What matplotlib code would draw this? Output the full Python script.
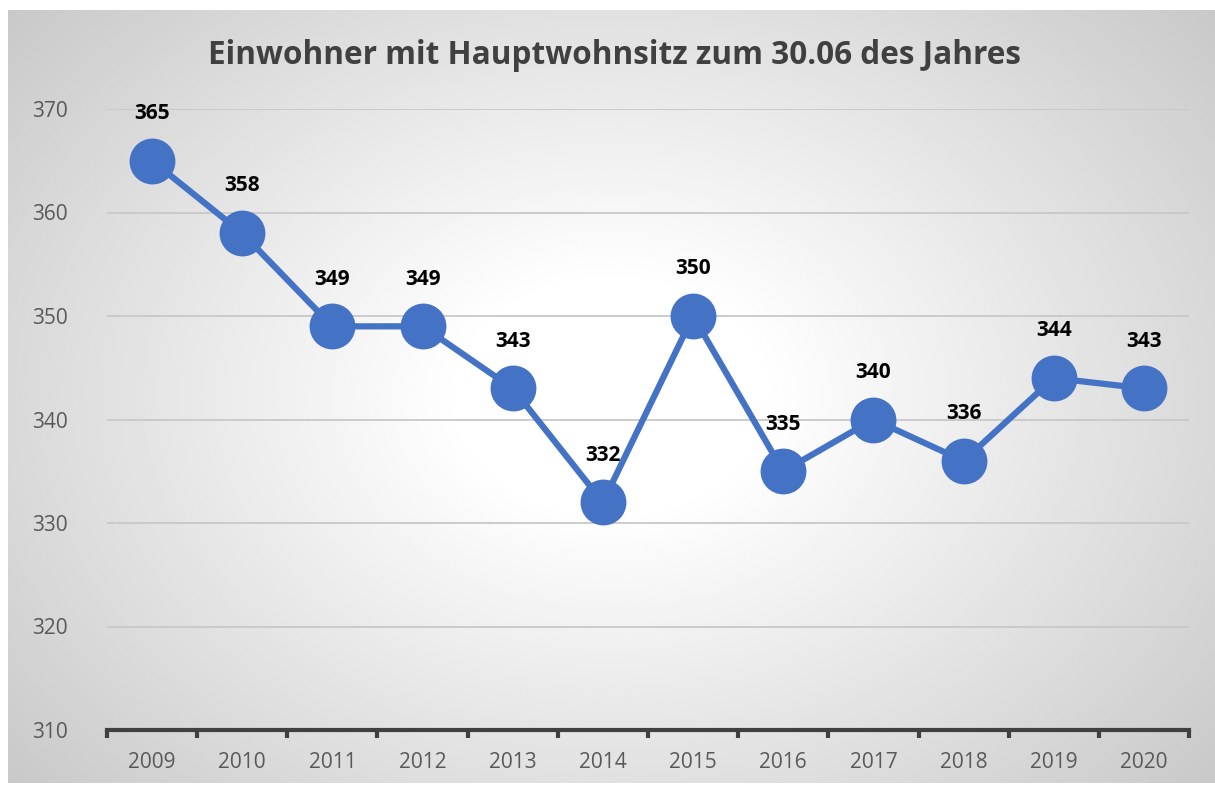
import matplotlib
matplotlib.use("Agg")
import matplotlib.pyplot as plt
import numpy as np

years = ["2009", "2010", "2011", "2012", "2013", "2014",
         "2015", "2016", "2017", "2018", "2019", "2020"]
residents = [365, 358, 349, 349, 343, 332, 350, 335, 340, 336, 344, 343]
y_ticks = [310, 320, 330, 340, 350, 360, 370]
title = "Einwohner mit Hauptwohnsitz zum 30.06 des Jahres"

LINE_COLOR = "#4472C4"
TEXT_GRAY = "#595959"

plt.rcParams["font.family"] = ["Open Sans", "DejaVu Sans"]

fig = plt.figure(figsize=(12.15, 7.85), dpi=100)

# radial gradient background of the chart area
bg = fig.add_axes([8 / 1215, 2 / 785, 1207 / 1215, 773 / 785])
bg.set_axis_off()
yy, xx = np.mgrid[-1:1:400j, -1:1:600j]
dist = np.sqrt(xx ** 2 + (yy * 0.85) ** 2)
shade = 1.0 - 0.22 * np.clip((dist - 0.25) / 1.1, 0, 1)
bg.imshow(shade, cmap="gray", vmin=0, vmax=1, aspect="auto",
          extent=(0, 1, 0, 1), interpolation="bilinear")
bg.set_xlim(0, 1)
bg.set_ylim(0, 1)

ax = fig.add_axes([107 / 1215, 1 - 730 / 785, 1082 / 1215, 621 / 785])
ax.patch.set_alpha(0)

x = np.arange(len(years))
ax.plot(x, residents, color=LINE_COLOR, lw=4.5, marker="o", ms=32,
        markerfacecolor=LINE_COLOR, markeredgecolor=LINE_COLOR, zorder=3,
        clip_on=False)
for xi, val in zip(x, residents):
    ax.annotate(str(val), (xi, val), xytext=(0, 34), textcoords="offset points",
                ha="center", va="center", fontsize=15, fontweight="bold",
                color="black", zorder=4)

ax.set_xlim(-0.5, len(years) - 0.5)
ax.set_ylim(310, 370)
ax.set_yticks(y_ticks)
ax.set_xticks(x)
ax.set_xticklabels(years)
ax.set_xticks(np.arange(-0.5, len(years)), minor=True)
ax.tick_params(axis="x", which="major", length=0, pad=16, labelsize=15,
               labelcolor=TEXT_GRAY)
ax.tick_params(axis="x", which="minor", length=6, width=3, color="#404040",
               direction="out")
ax.tick_params(axis="y", length=0, pad=54, labelsize=15, labelcolor=TEXT_GRAY)
for lbl in ax.get_yticklabels():
    lbl.set_horizontalalignment("left")

ax.grid(axis="y", color="#c8c8c8", lw=1.3)
ax.set_axisbelow(True)
for side in ["top", "right", "left"]:
    ax.spines[side].set_visible(False)
ax.spines["bottom"].set_color("#404040")
ax.spines["bottom"].set_linewidth(3)
ax.spines["bottom"].set_zorder(2)

fig.text(614 / 1215, 1 - 55 / 785, title, ha="center", va="center",
         fontsize=22.7, fontweight="bold", color="#404040")

fig.savefig("out.png", dpi=100)
